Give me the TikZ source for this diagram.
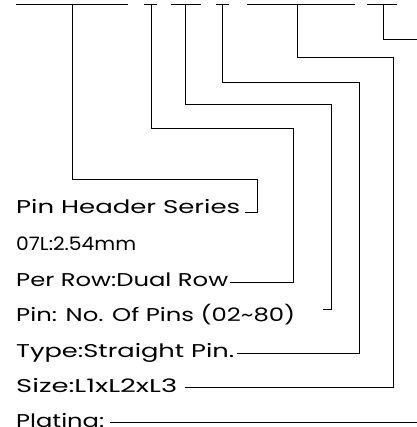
\documentclass[tikz,border=0pt]{standalone}
\usepackage{fontspec}
\usepackage{graphicx}
\setmainfont{Poppins}
\usetikzlibrary{calc}
% squeeze/stretch a label to the width it has in the drawing
\newcommand{\cadlabel}[2]{\resizebox{#1}{\height}{#2}}

\begin{document}
\begin{tikzpicture}[
  x=1pt, y=-1pt,
  font=\fontsize{18.5}{20}\selectfont,
  bar/.style={line width=0.9pt},
  lead/.style={line width=0.9pt},
  code/.style={anchor=base west, inner sep=0pt},
]
\useasboundingbox (0,0) rectangle (416,427);

% ---------------- code bars ----------------
\draw[bar] (16,4) -- (128,4);
\draw[bar] (144,4) -- (157,4);
\draw[bar] (171,4) -- (201,4);
\draw[bar] (216,4) -- (229,4);
\draw[bar] (247,4) -- (355,4);
\draw[bar] (367,4) -- (397,4);

\coordinate (tSeries) at (72,4);
\coordinate (tRows)   at (151,4);
\coordinate (tPins)   at (185,4);
\coordinate (tType)   at (222,4);
\coordinate (tSize)   at (297,4);
\coordinate (tPlate)  at (383,4);

% ---------------- labels ----------------
\node (series) [code] at (16,214) {\cadlabel{224pt}{Pin Header Series}};
\node (pitch)  [code] at (16,250) {\cadlabel{120pt}{07L:2.54mm}};
\node (rows)   [code] at (16,286) {\cadlabel{212pt}{Per Row:Dual Row}};
\node (pins)   [code] at (16,321) {\cadlabel{279pt}{Pin: No. Of Pins (02\textasciitilde80)}};
\node (type)   [code] at (16,357) {\cadlabel{218pt}{Type:Straight Pin.}};
\node (size)   [code] at (16,392) {\cadlabel{161pt}{Size:L1xL2xL3}};
\node (plate)  [code] at (16,427) {\cadlabel{88pt}{Plating:}};

% ---------------- leaders ----------------
\draw[lead] (tSeries) |- (257,179) |- ([xshift=5pt,yshift=2pt]series.base east);
\draw[lead] (tRows)   |- (293,128) |- ([xshift=2pt,yshift=4pt]rows.base east);
\draw[lead] (tPins)   |- (331,104) |- ([xshift=28pt,yshift=12pt]pins.base east);
\draw[lead] (tType)   |- (359,82)  |- ([xshift=3pt,yshift=4pt]type.base east);
\draw[lead] (tSize)   |- (393,57)  |- ([xshift=8pt,yshift=5pt]size.base east);
\draw[lead] (tPlate)  |- (425,39)  |- ([xshift=6pt,yshift=5pt]plate.base east);

\end{tikzpicture}
\end{document}
